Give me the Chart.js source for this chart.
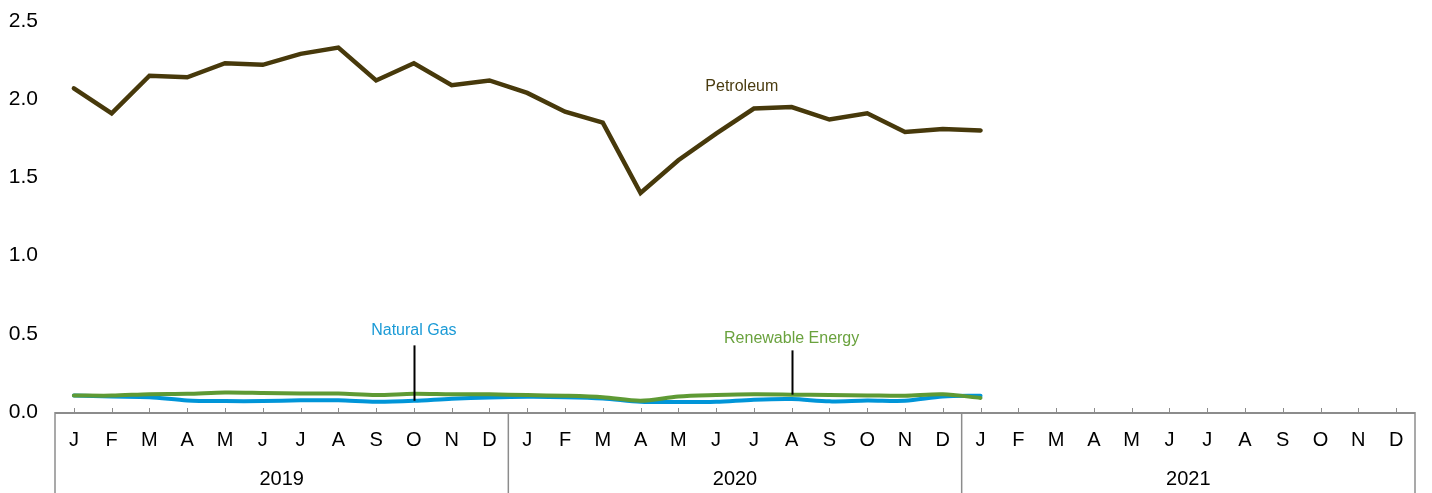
<!DOCTYPE html>
<html>
<head>
<meta charset="utf-8">
<script src="https://cdn.jsdelivr.net/npm/chart.js@4"></script>
<style>
html,body{margin:0;padding:0;background:#fff;}
#wrap{width:1432px;height:493px;position:relative;}
</style>
</head>
<body>
<div id="wrap"><canvas id="c" width="1432" height="493"></canvas></div>
<script>
const months = ["J","F","M","A","M","J","J","A","S","O","N","D"];
const years = ["2019","2020","2021"];
const categories = [];
years.forEach(y => months.forEach((m, i) => categories.push(y + "-" + (i + 1))));
const yTicks = [0, 0.5, 1.0, 1.5, 2.0, 2.5];

const petroleum = [2.07, 1.91, 2.15, 2.14, 2.23, 2.22, 2.29, 2.33, 2.12, 2.23, 2.09, 2.12,
                   2.04, 1.92, 1.85, 1.40, 1.61, 1.78, 1.94, 1.95, 1.87, 1.91, 1.79, 1.81,
                   1.80];
const naturalGas = [0.105, 0.099, 0.095, 0.074, 0.070, 0.070, 0.075, 0.075, 0.066, 0.072, 0.085, 0.093,
                    0.097, 0.095, 0.087, 0.066, 0.064, 0.066, 0.079, 0.083, 0.068, 0.074, 0.072, 0.099,
                    0.104];
const renewable = [0.106, 0.105, 0.114, 0.116, 0.125, 0.122, 0.118, 0.118, 0.108, 0.117, 0.113, 0.113,
                   0.108, 0.104, 0.095, 0.072, 0.099, 0.108, 0.113, 0.111, 0.108, 0.106, 0.104, 0.113,
                   0.090];

const annotations = [
  {text: "Petroleum", color: "#4a3c10", index: 17.68, value: 2.08, leader: false},
  {text: "Natural Gas", color: "#1a9ad6", index: 9, value: 0.52, leader: true, leaderTop: 0.426, series: "naturalGas"},
  {text: "Renewable Energy", color: "#6aa23e", index: 19, value: 0.472, leader: true, leaderTop: 0.394, series: "renewable"}
];
const seriesMap = {naturalGas, renewable};

const FONT = "'Liberation Sans', Arial, sans-serif";

const decor = {
  id: "decor",
  afterDatasetsDraw(chart) {
    const ctx = chart.ctx;
    const x = chart.scales.x, y = chart.scales.y;
    const ca = chart.chartArea;
    const n = categories.length;
    const step = (ca.right - ca.left) / n;
    ctx.save();
    ctx.strokeStyle = "#8c8c8c";
    ctx.lineWidth = 1;
    for (let i = 0; i < n; i++) {
      const px = Math.round(x.getPixelForValue(i)) + 0.5;
      ctx.beginPath();
      ctx.moveTo(px, ca.bottom - 4);
      ctx.lineTo(px, ca.bottom);
      ctx.stroke();
    }
    ctx.lineWidth = 1.5;
    for (let k = 0; k <= years.length; k++) {
      const px = ca.left + k * 12 * step;
      ctx.beginPath();
      ctx.moveTo(px, ca.bottom);
      ctx.lineTo(px, chart.height);
      ctx.stroke();
    }
    ctx.lineWidth = 2;
    ctx.beginPath();
    ctx.moveTo(ca.left, ca.bottom + 1);
    ctx.lineTo(ca.right, ca.bottom + 1);
    ctx.stroke();
    ctx.fillStyle = "#000";
    ctx.font = "20px " + FONT;
    ctx.textAlign = "center";
    ctx.textBaseline = "middle";
    years.forEach((yr, k) => {
      const cx = ca.left + (k * 12 + 6) * step;
      ctx.fillText(yr, cx, 479);
    });
    ctx.font = "16px " + FONT;
    annotations.forEach(a => {
      const px = ca.left + (a.index + 0.5) * step;
      ctx.fillStyle = a.color;
      ctx.fillText(a.text, px, y.getPixelForValue(a.value));
      if (a.leader) {
        const lx = Math.round(px) + 0.5;
        ctx.strokeStyle = "#000";
        ctx.lineWidth = 2;
        ctx.beginPath();
        ctx.moveTo(lx, y.getPixelForValue(a.leaderTop));
        ctx.lineTo(lx, y.getPixelForValue(seriesMap[a.series][a.index]));
        ctx.stroke();
      }
    });
    ctx.restore();
  }
};

new Chart(document.getElementById("c"), {
  type: "line",
  data: {
    labels: categories,
    datasets: [
      {label: "Petroleum", data: petroleum, borderColor: "#47390b", borderWidth: 4.5, pointRadius: 0, tension: 0, borderCapStyle: "round", borderJoinStyle: "miter"},
      {label: "Renewable Energy", data: renewable, borderColor: "#5e9a34", borderWidth: 4, pointRadius: 0, tension: 0.3, borderCapStyle: "round"},
      {label: "Natural Gas", data: naturalGas, borderColor: "#0095d8", borderWidth: 4, pointRadius: 0, tension: 0.3, borderCapStyle: "round"}
    ]
  },
  options: {
    responsive: false,
    animation: false,
    devicePixelRatio: 1,
    layout: {padding: {top: 21, right: 17, left: 0, bottom: 0}},
    plugins: {legend: {display: false}, tooltip: {enabled: false}},
    scales: {
      x: {
        offset: true,
        grid: {display: false, drawTicks: false},
        border: {display: false},
        ticks: {
          autoSkip: false,
          maxRotation: 0,
          padding: 16,
          color: "#000",
          font: {size: 20, family: FONT},
          callback: (v, i) => months[i % 12]
        },
        afterFit: s => { s.height = 81; s.paddingLeft = 0; s.paddingRight = 0; }
      },
      y: {
        min: 0,
        max: 2.5,
        grid: {display: false, drawTicks: false},
        border: {display: false},
        afterBuildTicks: s => { s.ticks = yTicks.map(v => ({value: v})); },
        ticks: {
          padding: 17,
          color: "#000",
          font: {size: 21, family: FONT},
          callback: v => v.toFixed(1)
        },
        afterFit: s => { s.width = 55; s.paddingTop = 0; s.paddingBottom = 0; }
      }
    }
  },
  plugins: [decor]
});
</script>
</body>
</html>
